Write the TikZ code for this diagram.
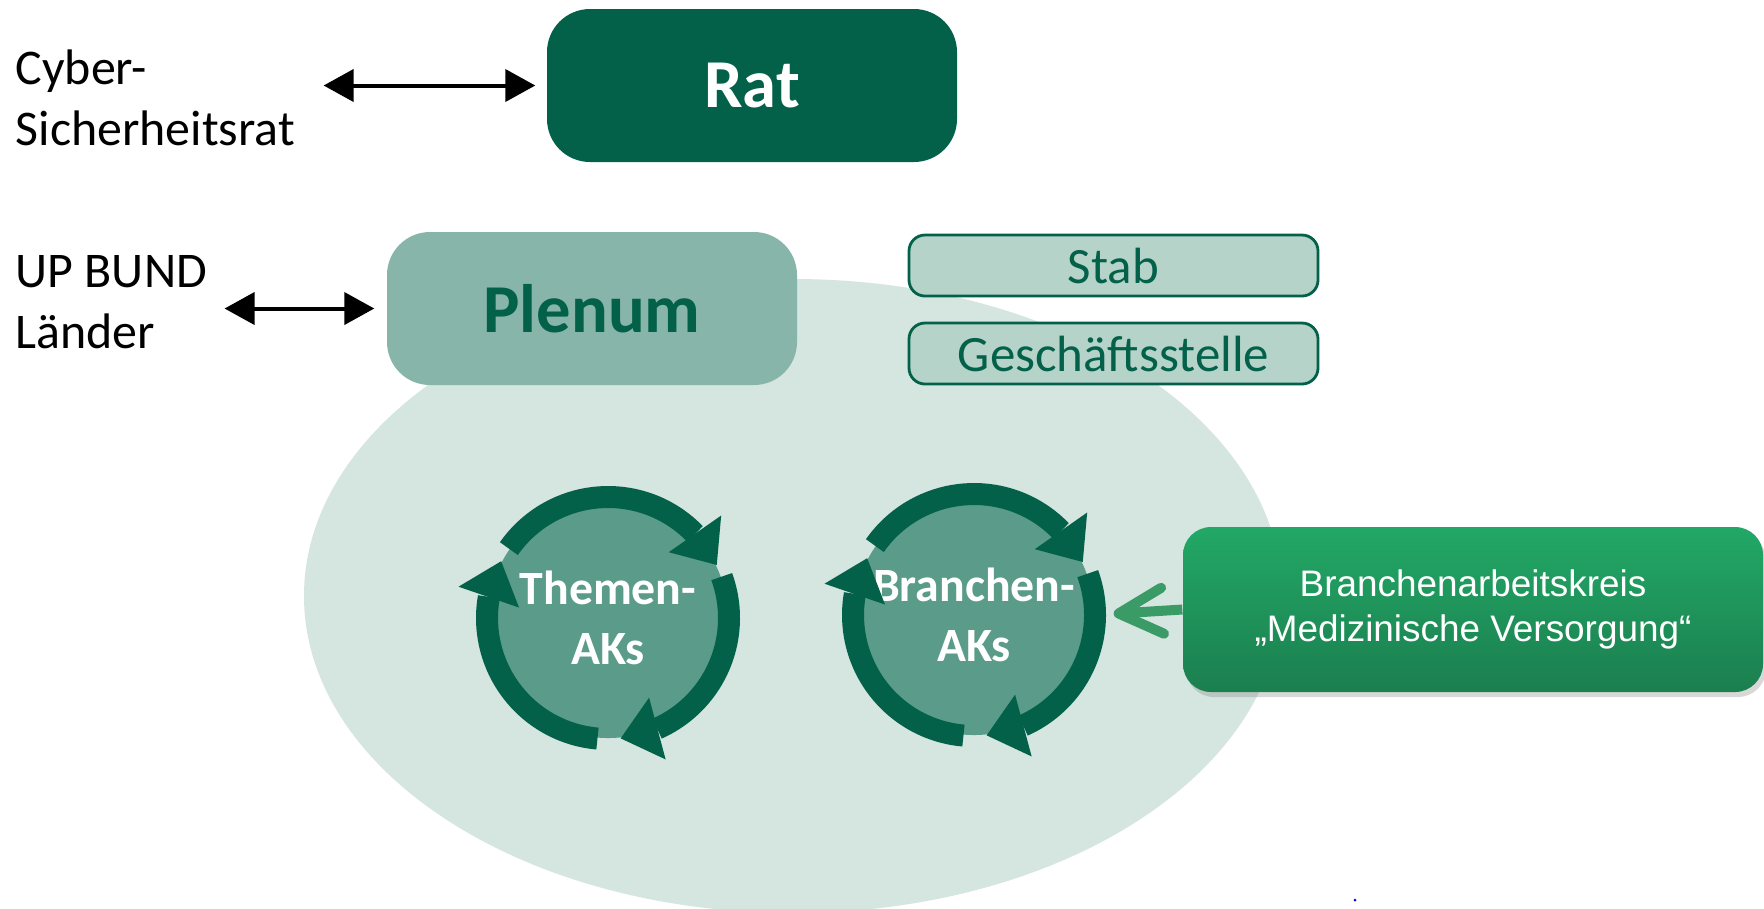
\documentclass[tikz,border=0pt]{standalone}
\usepackage{fontspec}
\setmainfont{Carlito}
\newfontfamily\arialfont{Liberation Sans}
\usetikzlibrary{arrows.meta,bending,calc,shadows}

\definecolor{ratgreen}{HTML}{03614A}
\definecolor{plenumgreen}{HTML}{88B5A9}
\definecolor{ovalgreen}{HTML}{D5E5E0}
\definecolor{stabfill}{HTML}{B6D3CA}
\definecolor{discgreen}{HTML}{5A9B89}
\definecolor{boxtop}{HTML}{22A866}
\definecolor{boxbot}{HTML}{1B7F4F}
\definecolor{linkgreen}{HTML}{3A9B67}

\tikzset{
  sidelabel/.style={align=left, anchor=base west, inner sep=0pt, font=\fontsize{14.2}{17.1}\selectfont},
  bigbox/.style={rounded corners=0.43cm, minimum width=4.1cm, minimum height=1.53cm, font=\fontsize{19.5}{23}\selectfont\bfseries},
  smallbox/.style={draw=ratgreen, line width=0.8pt, fill=stabfill, rounded corners=0.16cm, minimum width=4.09cm, minimum height=0.61cm, inner sep=0pt, text=ratgreen, font=\fontsize{14.5}{16}\selectfont},
  akdisc/.style={circle, fill=discgreen, minimum size=2.4cm, inner sep=0pt, align=center, text=white, font=\fontsize{13.6}{17.1}\selectfont\bfseries},
  ringarrow/.style={draw=ratgreen, line width=0.22cm, -{Triangle[length=0.38cm,width=0.64cm,line width=0pt]}},
  biarrow/.style={line width=0.04cm, >={Triangle[length=0.3cm,width=0.32cm]}, <->},
  greenbox/.style={rounded corners=0.28cm, top color=boxtop, bottom color=boxbot, minimum width=5.8cm, minimum height=1.65cm, text=white, align=center, font=\arialfont\fontsize{10.5}{12.8}\selectfont, drop shadow={shadow xshift=0.03cm, shadow yshift=-0.05cm, opacity=0.3}},
  linkarrow/.style={draw=linkgreen, line width=0.1cm, -{Straight Barb[length=0.44cm,width=0.46cm,round]}, shorten >=0.19cm},
}

\begin{document}
\begin{tikzpicture}
    \useasboundingbox (0,0) rectangle (17.64,-9.08);
    \fill[white] (0,0) rectangle (17.64,-9.08);

    % oval
    \fill[ovalgreen] (7.93,-5.96) ellipse [x radius=4.89, y radius=3.17];

    % left labels
    \node[sidelabel] (cyber) at (0.15,-1.45) {Cyber-\\Sicherheitsrat};
    \node[sidelabel] (upbund) at (0.15,-3.48) {UP BUND\\Länder};

    % boxes
    \node[bigbox, fill=ratgreen, text=white] (rat) at (7.52,-0.855) {Rat};
    \node[bigbox, fill=plenumgreen, text=ratgreen] (plenum) at (5.92,-3.085) {Plenum};
    \node[smallbox] (stab) at (11.135,-2.655) {Stab};
    \node[smallbox] (gst) at (11.135,-3.535) {Geschäftsstelle};

    % working groups
    \node[akdisc] (tak) at (6.08,-6.18) {Themen-\\AKs};
    \node[akdisc] (bak) at (9.74,-6.15) {Branchen-\\AKs};
    \foreach \ak in {tak,bak}
        \foreach \s/\e in {145/26,20/-84,265/152}
            \draw[ringarrow] ($(\ak)+(\s:1.21)$) arc[start angle=\s, end angle=\e, radius=1.21];

    \node[greenbox] (medbox) at (14.73,-6.095) {Branchenarbeitskreis\\„Medizinische Versorgung“};

    % arrows
    \draw[biarrow, shorten >=0.11cm] ($(cyber.east |- rat.west)+(0.28,0)$) -- (rat.west);
    \draw[biarrow, shorten >=0.12cm] ($(upbund.east |- plenum.west)+(0.17,0)$) -- (plenum.west);
    \draw[linkarrow] (medbox.west) -- (bak.east);

    \fill[blue] (13.55,-9.0) circle (0.015);
\end{tikzpicture}
\end{document}
